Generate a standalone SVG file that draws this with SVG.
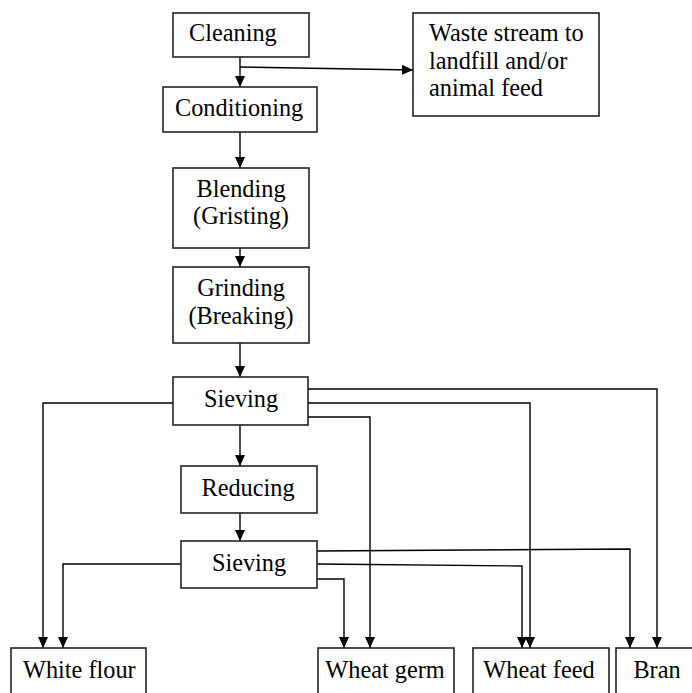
<svg xmlns="http://www.w3.org/2000/svg" width="692" height="693" viewBox="0 0 692 693">
<defs>
<marker id="ah" viewBox="0 0 11 10" refX="11" refY="5" markerWidth="11" markerHeight="10" markerUnits="userSpaceOnUse" orient="auto">
<path d="M0,0 L11,5 L0,10 z" fill="#000"/>
</marker>
<style>
.box{fill:#fff;stroke:#222;stroke-width:1.6}
.t{font-size:24.3px;fill:#000}
.c{text-anchor:middle}
.ar{fill:none;stroke:#000;stroke-width:1.4;marker-end:url(#ah)}
</style>
</defs>
<rect width="692" height="693" fill="#fff"/>
<g id="connectors">
<path class="ar" d="M240,57 V87"/>
<path class="ar" d="M240,67 L413,70"/>
<path class="ar" d="M240,132 V168"/>
<path class="ar" d="M240,248 V267"/>
<path class="ar" d="M240,343 V377"/>
<path class="ar" d="M240,425 V466"/>
<path class="ar" d="M173,403 H43 V648"/>
<path class="ar" d="M308,389 H657 V648"/>
<path class="ar" d="M308,403 H530 V648"/>
<path class="ar" d="M308,417 H370 V648"/>
<path class="ar" d="M240,513 V541"/>
<path class="ar" d="M181,564 H63 V648"/>
<path class="ar" d="M317,551 L630,549 V648"/>
<path class="ar" d="M317,564 L522,566 V648"/>
<path class="ar" d="M317,579 H344 V648"/>
</g>
<g font-family="'Liberation Serif', 'Times New Roman', serif">
<g id="cleaning"><rect class="box" x="173" y="13" width="136" height="44"/><text class="t" x="189" y="41">Cleaning</text></g>
<g id="waste"><rect class="box" x="413" y="13" width="186" height="103"/>
<text class="t" x="429" y="41">Waste stream to</text>
<text class="t" x="429" y="69">landfill and/or</text>
<text class="t" x="429" y="96">animal feed</text></g>
<g id="conditioning"><rect class="box" x="163" y="87" width="154" height="45"/><text class="t" x="175" y="116">Conditioning</text></g>
<g id="blending"><rect class="box" x="173" y="168" width="136" height="80"/>
<text class="t c" x="241" y="197">Blending</text><text class="t c" x="241" y="224">(Gristing)</text></g>
<g id="grinding"><rect class="box" x="173" y="267" width="136" height="76"/>
<text class="t c" x="241" y="296">Grinding</text><text class="t c" x="241" y="324">(Breaking)</text></g>
<g id="sieving1"><rect class="box" x="173" y="377" width="135" height="48"/><text class="t c" x="241" y="407">Sieving</text></g>
<g id="reducing"><rect class="box" x="181" y="466" width="136" height="47"/><text class="t c" x="248" y="496">Reducing</text></g>
<g id="sieving2"><rect class="box" x="181" y="541" width="136" height="47"/><text class="t c" x="249" y="571">Sieving</text></g>
<g id="whiteflour"><rect class="box" x="11" y="648" width="135" height="60"/><text class="t" x="23" y="678">White flour</text></g>
<g id="wheatgerm"><rect class="box" x="318" y="648" width="136" height="60"/><text class="t c" x="385" y="678">Wheat germ</text></g>
<g id="wheatfeed"><rect class="box" x="473" y="648" width="136" height="60"/><text class="t c" x="539" y="678">Wheat feed</text></g>
<g id="bran"><rect class="box" x="616" y="648" width="90" height="60"/><text class="t c" x="657" y="678">Bran</text></g>
</g>
</svg>
